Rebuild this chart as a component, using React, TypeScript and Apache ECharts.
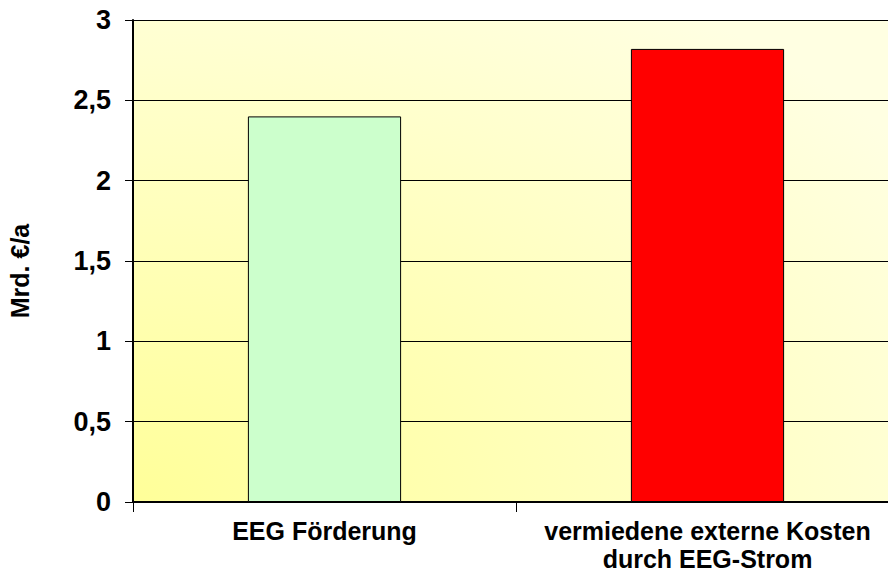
import React, { useEffect, useRef } from "react";
import * as echarts from "echarts";

const categories = ["EEG Förderung", "vermiedene externe Kosten\ndurch EEG-Strom"];
const values = [2.4, 2.82];
const barColors = ["#CCFFCC", "#FF0000"];
const yAxisName = "Mrd. €/a";

export default function App() {
  const ref = useRef<HTMLDivElement>(null);
  useEffect(() => {
    const chart = echarts.init(ref.current!, undefined, { renderer: "svg" });
    const font = "Arial, 'Liberation Sans', sans-serif";
    chart.setOption({
      animation: false,
      grid: {
        left: 133,
        right: 0,
        top: 20,
        bottom: 72,
        outerBoundsMode: "none",
        containLabel: false,
        show: true,
        borderWidth: 0,
        backgroundColor: {
          type: "radial",
          x: 0,
          y: 1,
          r: 1.25,
          colorStops: [
            { offset: 0, color: "#FFFF99" },
            { offset: 1, color: "#FFFFE2" },
          ],
        },
      },
      graphic: [
        {
          type: "text",
          x: 20,
          y: 271,
          rotation: Math.PI / 2,
          style: {
            text: yAxisName,
            fill: "#000",
            fontFamily: font,
            fontWeight: "bold",
            fontSize: 25,
            align: "center",
            verticalAlign: "middle",
          },
        },
      ],
      xAxis: {
        type: "category",
        data: categories,
        axisLine: { lineStyle: { color: "#000", width: 2 } },
        axisTick: { show: true, length: 10, lineStyle: { color: "#000", width: 1 } },
        axisLabel: {
          interval: 0,
          hideOverlap: false,
          color: "#000",
          fontFamily: font,
          fontWeight: "bold",
          fontSize: 25,
          lineHeight: 28,
          margin: 15,
        },
      },
      yAxis: {
        type: "value",
        min: 0,
        max: 3,
        interval: 0.5,
        axisLine: { show: true, lineStyle: { color: "#000", width: 2 } },
        axisTick: { show: true, length: 8, lineStyle: { color: "#000", width: 1 } },
        splitLine: { show: true, lineStyle: { color: "#000", width: 1 } },
        axisLabel: {
          color: "#000",
          fontFamily: font,
          fontWeight: "bold",
          fontSize: 27,
          margin: 22,
          formatter: (v: number) => String(v).replace(".", ","),
        },
      },
      series: [
        {
          type: "bar",
          barWidth: "40%",
          data: values.map((v, i) => ({
            value: v,
            itemStyle: { color: barColors[i], borderColor: "#000", borderWidth: 1 },
          })),
        },
      ],
    });
    return () => chart.dispose();
  }, []);
  return (
    <div
      style={{
        position: "absolute",
        left: 0,
        top: 0,
        width: 888,
        height: 574,
        overflow: "hidden",
        background: "#fff",
      }}
    >
      <div ref={ref} style={{ width: 899, height: 574 }} />
    </div>
  );
}
